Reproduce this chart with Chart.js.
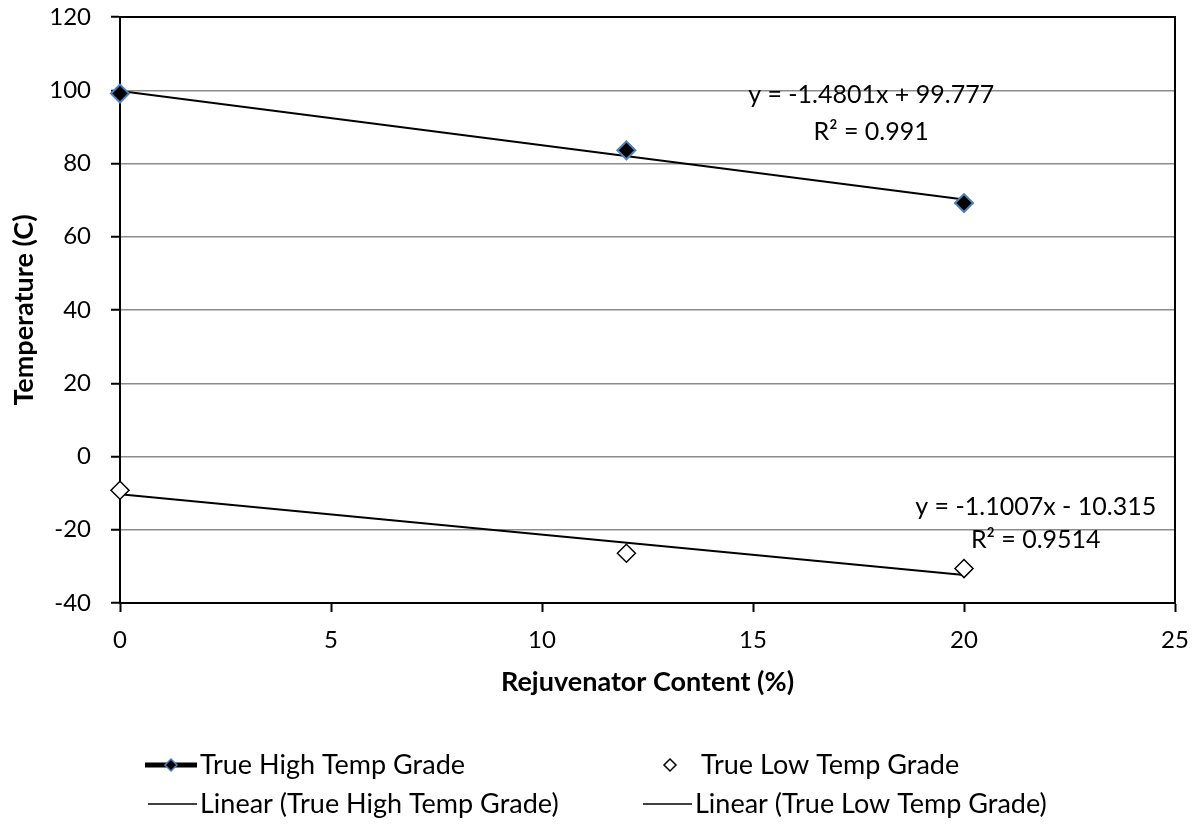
<!DOCTYPE html>
<html>
<head>
<meta charset="utf-8">
<title>Temperature vs Rejuvenator Content</title>
<script src="https://cdn.jsdelivr.net/npm/chart.js@4.4.1/dist/chart.umd.min.js"></script>
<style>
  html, body { margin: 0; padding: 0; background: #ffffff; }
  #wrap { width: 1197px; height: 829px; }
</style>
</head>
<body>
<div id="wrap"><canvas id="temp-chart" width="1197" height="829"></canvas></div>
<script>
// Datos del ensayo
const rejuvenatorContent = [0, 12, 20];
const trueHighTemp = [99.1, 83.6, 69.2];
const trueLowTemp = [-9.2, -26.4, -30.6];
const seriesNames = ['True High Temp Grade', 'True Low Temp Grade'];

// Ajustes lineales: [pendiente, ordenada]
const highFitCoef = [-1.4801, 99.777];
const lowFitCoef = [-1.1007, -10.315];
const rSquared = [0.991, 0.9514];

// Ejes
const xAxisRange = [0, 25, 5];
const yAxisRange = [-40, 120, 20];

const fontFamily = 'Lato, "Open Sans", sans-serif';
const gridGray = '#8c8c8c';

function trendPoints(coef) {
    const xs = [rejuvenatorContent[0], rejuvenatorContent[rejuvenatorContent.length - 1]];
    return xs.map(x => ({ x: x, y: coef[0] * x + coef[1] }));
}

function equationText(coef) {
    const sign = coef[1] < 0 ? ' - ' : ' + ';
    return 'y = ' + coef[0] + 'x' + sign + Math.abs(coef[1]);
}

// Posición de las ecuaciones (en unidades de los ejes)
const equationAnchors = [
    { x: 17.8, y: 98.6, gap: 37 },
    { x: 21.7, y: -13.9, gap: 33 }
];

const toPoints = ys => rejuvenatorContent.map((x, i) => ({ x: x, y: ys[i] }));

// Sin márgenes extra por las etiquetas de los extremos
function noEdgePadding(scale) {
    scale.paddingTop = 0;
    scale.paddingBottom = 0;
    scale.paddingLeft = 0;
    scale.paddingRight = 0;
}

// Marco del área de trazado
const plotFrame = {
    id: 'plotFrame',
    beforeDatasetsDraw(chart) {
        const { ctx, chartArea: a } = chart;
        ctx.save();
        ctx.strokeStyle = '#000000';
        ctx.lineWidth = 2;
        ctx.strokeRect(a.left, a.top, a.right - a.left, a.bottom - a.top);
        ctx.restore();
    }
};

// Ecuaciones de tendencia y R²
const trendLabels = {
    id: 'trendLabels',
    afterDatasetsDraw(chart) {
        const { ctx, scales } = chart;
        const coefs = [highFitCoef, lowFitCoef];
        ctx.save();
        ctx.fillStyle = '#000000';
        ctx.font = '25px ' + fontFamily;
        ctx.textAlign = 'center';
        ctx.textBaseline = 'middle';
        coefs.forEach((coef, i) => {
            const px = scales.x.getPixelForValue(equationAnchors[i].x);
            const py = scales.y.getPixelForValue(equationAnchors[i].y);
            ctx.fillText(equationText(coef), px, py);
            ctx.fillText('R² = ' + rSquared[i], px, py + equationAnchors[i].gap);
        });
        ctx.restore();
    }
};

function drawDiamond(ctx, x, y, r, fill, stroke, width) {
    ctx.beginPath();
    ctx.moveTo(x, y - r);
    ctx.lineTo(x + r, y);
    ctx.lineTo(x, y + r);
    ctx.lineTo(x - r, y);
    ctx.closePath();
    ctx.fillStyle = fill;
    ctx.fill();
    ctx.lineWidth = width;
    ctx.strokeStyle = stroke;
    ctx.stroke();
}

// Leyenda en dos columnas bajo el gráfico
const bottomLegend = {
    id: 'bottomLegend',
    afterDraw(chart) {
        const ctx = chart.ctx;
        const rowY = [765, 804];
        const cols = [145, 640];
        const symbolW = 52;
        const textGap = 3;
        const trendNames = seriesNames.map(n => 'Linear (' + n + ')');
        ctx.save();
        ctx.font = '27px ' + fontFamily;
        ctx.textAlign = 'left';
        ctx.textBaseline = 'middle';

        // Fila 1: series de datos
        ctx.strokeStyle = '#000000';
        ctx.lineWidth = 5;
        ctx.beginPath();
        ctx.moveTo(cols[0], rowY[0]);
        ctx.lineTo(cols[0] + symbolW, rowY[0]);
        ctx.stroke();
        drawDiamond(ctx, cols[0] + symbolW / 2, rowY[0], 6, '#000000', '#4f81bd', 1.5);
        drawDiamond(ctx, cols[1] + symbolW / 2 + 4, rowY[0], 6, '#ffffff', '#000000', 1.5);
        ctx.fillStyle = '#000000';
        ctx.fillText(seriesNames[0], cols[0] + symbolW + textGap, rowY[0]);
        ctx.fillText(seriesNames[1], cols[1] + symbolW + textGap + 6, rowY[0]);

        // Fila 2: líneas de tendencia
        ctx.lineWidth = 1.5;
        cols.forEach((cx, i) => {
            ctx.beginPath();
            ctx.moveTo(cx + 3, rowY[1]);
            ctx.lineTo(cx + symbolW, rowY[1]);
            ctx.stroke();
            ctx.fillText(trendNames[i], cx + symbolW + textGap, rowY[1]);
        });
        ctx.restore();
    }
};

const ctx = document.getElementById('temp-chart').getContext('2d');
const tempChart = new Chart(ctx, {
    type: 'scatter',
    data: {
        datasets: [{
            label: seriesNames[0],
            data: toPoints(trueHighTemp),
            pointStyle: 'rectRot',
            pointRadius: 9,
            backgroundColor: '#000000',
            borderColor: '#4f81bd',
            borderWidth: 2,
            clip: false,
            order: 0
        }, {
            label: seriesNames[1],
            data: toPoints(trueLowTemp),
            pointStyle: 'rectRot',
            pointRadius: 9,
            backgroundColor: '#ffffff',
            borderColor: '#000000',
            borderWidth: 1.5,
            clip: false,
            order: 0
        }, {
            label: 'Linear (' + seriesNames[0] + ')',
            data: trendPoints(highFitCoef),
            showLine: true,
            pointRadius: 0,
            borderColor: '#000000',
            borderWidth: 2,
            order: 1
        }, {
            label: 'Linear (' + seriesNames[1] + ')',
            data: trendPoints(lowFitCoef),
            showLine: true,
            pointRadius: 0,
            borderColor: '#000000',
            borderWidth: 2,
            order: 1
        }]
    },
    options: {
        responsive: false,
        animation: false,
        layout: {
            padding: { top: 17, right: 22, left: 0, bottom: 131 }
        },
        scales: {
            x: {
                type: 'linear',
                min: xAxisRange[0],
                max: xAxisRange[1],
                ticks: {
                    stepSize: xAxisRange[2],
                    color: '#000000',
                    padding: 14,
                    font: { family: fontFamily, size: 24 }
                },
                grid: {
                    drawOnChartArea: false,
                    drawTicks: true,
                    tickLength: 9,
                    tickColor: '#000000',
                    tickWidth: 2
                },
                border: { display: true, color: '#000000', width: 2 },
                title: {
                    display: true,
                    text: 'Rejuvenator Content (%)',
                    color: '#000000',
                    padding: { top: 0, bottom: 0 },
                    font: { family: fontFamily, size: 27, weight: 'bold' }
                },
                afterFit(scale) {
                    scale.height = 95;
                    noEdgePadding(scale);
                }
            },
            y: {
                type: 'linear',
                min: yAxisRange[0],
                max: yAxisRange[1],
                ticks: {
                    stepSize: yAxisRange[2],
                    color: '#000000',
                    padding: 20,
                    font: { family: fontFamily, size: 24 }
                },
                grid: {
                    color: gridGray,
                    lineWidth: 1.5,
                    drawTicks: true,
                    tickLength: 9,
                    tickColor: '#000000',
                    tickWidth: 2
                },
                border: { display: true, color: '#000000', width: 2 },
                title: {
                    display: true,
                    text: 'Temperature (C)',
                    color: '#000000',
                    padding: { top: 8, bottom: 0 },
                    font: { family: fontFamily, size: 27, weight: 'bold' }
                },
                afterFit(scale) {
                    scale.width = 120;
                    noEdgePadding(scale);
                }
            }
        },
        plugins: {
            legend: { display: false },
            tooltip: { enabled: false }
        }
    },
    plugins: [plotFrame, trendLabels, bottomLegend]
});
</script>
</body>
</html>
